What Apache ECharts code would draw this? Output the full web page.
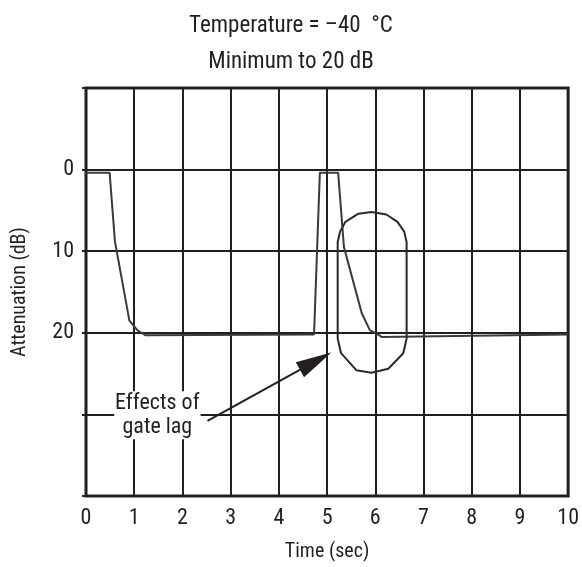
<!DOCTYPE html>
<html>
<head>
<meta charset="utf-8">
<script src="https://cdn.jsdelivr.net/npm/echarts@6/dist/echarts.min.js"></script>
<style>
html,body{margin:0;padding:0;background:#fff;}
#chart{width:582px;height:567px;}
</style>
</head>
<body>
<div id="chart"></div>
<script>
// ---- data ----
const titleLines = ['Temperature = \u201340  \u00B0C', 'Minimum to 20 dB'];
const xAxisName = 'Time (sec)';
const yAxisName = 'Attenuation (dB)';
const yTickLabels = ['0', '10', '20'];

// measured attenuation response
const responseTime  = [0, 0.49, 0.6, 0.9, 1.07, 1.23, 4.73, 4.85, 5.23, 5.35, 5.72, 5.89, 6.03, 6.13, 10];
const responseAtten = [0.4, 0.4, 8.8, 18.5, 19.7, 20.3, 20.2, 0.4, 0.4, 9.5, 17.6, 19.7, 20.1, 20.5, 20.2];

// highlight outline (gate lag region)
const ovalTime  = [5.92, 6.23, 6.46, 6.60, 6.65, 6.65, 6.58, 6.27, 5.92, 5.61, 5.29, 5.22, 5.22, 5.27, 5.38, 5.65, 5.92];
const ovalAtten = [5.2, 5.5, 6.4, 7.6, 8.9, 20.7, 22.5, 24.4, 24.9, 24.6, 22.5, 20.7, 8.9, 7.6, 6.4, 5.4, 5.2];

// annotation
const annotationText = 'Effects of\ngate lag';
const annotationAt = [1.48, 30.1];
const arrowTail = [2.52, 30.8];
const arrowTip  = [5.09, 22.4];

// ---- chart ----
const ink = '#231f20';
const font = '"Liberation Sans Narrow", "Roboto Condensed", Roboto, sans-serif';
const zip = (a, b) => a.map((v, i) => [v, b[i]]);

const chart = echarts.init(document.getElementById('chart'), null, {renderer: 'canvas'});
chart.setOption({
  animation: false,
  backgroundColor: '#fff',
  title: {
    text: titleLines.join('\n'),
    left: 'center',
    top: 3,
    textStyle: {fontFamily: font, fontSize: 23, fontWeight: 'normal', color: ink, lineHeight: 36}
  },
  grid: {left: 86, right: 11, top: 88, bottom: 71, show: true, borderColor: ink, borderWidth: 3, backgroundColor: 'transparent'},
  xAxis: {
    type: 'value', min: 0, max: 10, interval: 1,
    name: xAxisName, nameLocation: 'middle', nameGap: 46,
    nameTextStyle: {fontFamily: font, fontSize: 20, color: ink},
    axisLine: {show: false},
    axisTick: {show: false},
    axisLabel: {fontFamily: font, fontSize: 22, color: ink, margin: 11},
    splitLine: {show: true, lineStyle: {color: ink, width: 2}}
  },
  yAxis: {
    type: 'value', min: -10, max: 40, interval: 10, inverse: true,
    name: yAxisName, nameLocation: 'middle', nameGap: 56,
    nameTextStyle: {fontFamily: font, fontSize: 20, color: ink},
    axisLine: {show: false},
    axisTick: {show: true, length: 4, lineStyle: {color: ink, width: 2}},
    axisLabel: {
      fontFamily: font, fontSize: 22, color: ink, margin: 12,
      formatter: v => yTickLabels.includes(String(v)) ? String(v) : ''
    },
    splitLine: {show: true, lineStyle: {color: ink, width: 2}}
  },
  series: [
    {
      type: 'line', data: zip(responseTime, responseAtten), symbol: 'none',
      lineStyle: {color: '#3a3a3a', width: 2}, z: 3
    },
    {
      type: 'line', data: zip(ovalTime, ovalAtten), symbol: 'none',
      lineStyle: {color: '#2a2a2a', width: 2}, z: 3
    },
    {
      type: 'custom', z: 4,
      data: [[arrowTail[0], arrowTail[1], arrowTip[0], arrowTip[1]]],
      encode: {x: [0, 2], y: [1, 3]},
      renderItem: function (params, api) {
        const p0 = api.coord([api.value(0), api.value(1)]);
        const p1 = api.coord([api.value(2), api.value(3)]);
        const dx = p1[0] - p0[0], dy = p1[1] - p0[1];
        const len = Math.sqrt(dx * dx + dy * dy);
        const ux = dx / len, uy = dy / len;
        const headLen = 36, headHalf = 8.5;
        const bx = p1[0] - ux * headLen, by = p1[1] - uy * headLen;
        return {
          type: 'group',
          children: [
            {type: 'line', shape: {x1: p0[0], y1: p0[1], x2: bx + ux * 4, y2: by + uy * 4},
             style: {stroke: ink, lineWidth: 2}},
            {type: 'polygon', shape: {points: [
              [p1[0], p1[1]],
              [bx - uy * headHalf, by + ux * headHalf],
              [bx + uy * headHalf, by - ux * headHalf]
            ]}, style: {fill: ink}}
          ]
        };
      }
    },
    {
      type: 'custom', z: 5,
      data: [annotationAt],
      renderItem: function (params, api) {
        const p = api.coord([api.value(0), api.value(1)]);
        return {
          type: 'text', x: p[0], y: p[1],
          style: {
            text: annotationText, fill: ink, fontFamily: font, fontSize: 22,
            lineHeight: 24, align: 'center', verticalAlign: 'middle',
            backgroundColor: '#fff', padding: [0, 1]
          }
        };
      }
    }
  ]
});
</script>
</body>
</html>
